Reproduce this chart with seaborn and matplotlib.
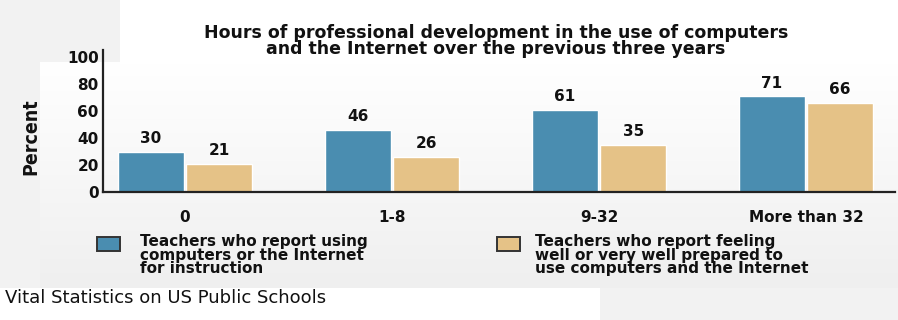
import numpy as np
import pandas as pd
import matplotlib
matplotlib.use("Agg")
import matplotlib.pyplot as plt
import seaborn as sns
from matplotlib.patches import Rectangle

# ---- data ----
categories = ["0", "1-8", "9-32", "More than 32"]
using_values = [30, 46, 61, 71]
prepared_values = [21, 26, 35, 66]
series_names = [
    "Teachers who report using\ncomputers or the Internet\nfor instruction",
    "Teachers who report feeling\nwell or very well prepared to\nuse computers and the Internet",
]
yticks = [0, 20, 40, 60, 80, 100]
title = ("Hours of professional development in the use of computers\n"
         "and the Internet over the previous three years")
caption = "Vital Statistics on US Public Schools"

BLUE = "#4a8db0"
TAN = "#e5c287"

df = pd.DataFrame({
    "hours": categories * 2,
    "percent": using_values + prepared_values,
    "series": [series_names[0]] * len(categories) + [series_names[1]] * len(categories),
})

sns.set_theme(style="white")
plt.rcParams["font.family"] = ["DejaVu Sans"]

W, H = 898, 320
fig = plt.figure(figsize=(W / 100, H / 100), dpi=100, facecolor="#f2f2f2")

def fx(px):
    return px / W

def fy(py):
    return 1 - py / H

# background decoration
bg = fig.add_axes([0, 0, 1, 1], zorder=-10)
bg.set_axis_off()
grad = np.linspace(1.0, 0.0, 256).reshape(-1, 1)
bg.imshow(grad, cmap=matplotlib.colors.LinearSegmentedColormap.from_list(
    "g", ["#efefef", "#ffffff"]), aspect="auto",
    extent=[fx(40), 1, fy(288), fy(62)], transform=fig.transFigure)
bg.add_patch(Rectangle((fx(120), fy(64)), 1 - fx(120), 64 / H,
                       transform=fig.transFigure, color="white", lw=0))
bg.add_patch(Rectangle((0, 0), fx(600), 32 / H,
                       transform=fig.transFigure, color="white", lw=0))
bg.set_xlim(0, 1); bg.set_ylim(0, 1)

# main axes
left_px, right_px, bottom_px = 103, 895, 192
ymax = 105
px_per_unit = 1.35
top_px = bottom_px - ymax * px_per_unit
ax = fig.add_axes([fx(left_px), fy(bottom_px), fx(right_px - left_px),
                   (bottom_px - top_px) / H])
ax.set_facecolor("none")

sns.barplot(data=df, x="hours", y="percent", hue="series",
            palette=[BLUE, TAN], width=0.66, gap=0.04, ax=ax,
            legend=False, saturation=1)

for cont in ax.containers:
    ax.bar_label(cont, fmt="%d", padding=4, fontsize=11, fontweight="bold",
                 color="#111111")

spacing = 207
ax.set_xlim(-(185 - left_px) / spacing, (right_px - 185) / spacing)
ax.set_ylim(0, ymax)
ax.set_yticks(yticks)
ax.set_yticklabels([str(v) for v in yticks], fontsize=11, fontweight="bold",
                   color="#111111")
ax.tick_params(axis="y", length=0, pad=3)
ax.tick_params(axis="x", length=0, pad=13, labelsize=11, labelcolor="#111111")
for lab in ax.get_xticklabels():
    lab.set_fontweight("bold")
ax.set_xlabel("")
ax.set_ylabel("Percent", fontsize=14, fontweight="bold", fontstretch="condensed",
              color="#111111")
ax.yaxis.set_label_coords((40 - left_px) / (right_px - left_px),
                          (bottom_px - 137) / (bottom_px - top_px))
for s in ["top", "right"]:
    ax.spines[s].set_visible(False)
for s in ["left", "bottom"]:
    ax.spines[s].set_color("#222222")
    ax.spines[s].set_linewidth(1.6)

# title
fig.text(fx(496), fy(41), title, ha="center", va="center", fontsize=12.5,
         fontweight="bold", linespacing=0.8, color="#111111")

# legend (manual)
for (hx, tx), name, col in zip([(97, 140), (497, 535)], series_names, [BLUE, TAN]):
    fig.patches.append(Rectangle((fx(hx), fy(251)), fx(23), 14 / H,
                                 transform=fig.transFigure, facecolor=col,
                                 edgecolor="#333333", lw=1.4))
    fig.text(fx(tx), fy(234), name, ha="left", va="top", fontsize=11,
             fontweight="bold", linespacing=0.88, color="#111111")

# caption
fig.text(fx(5), fy(298), caption, ha="left", va="center", fontsize=13,
         color="#111111")

fig.savefig("out.png", dpi=100, facecolor=fig.get_facecolor())
